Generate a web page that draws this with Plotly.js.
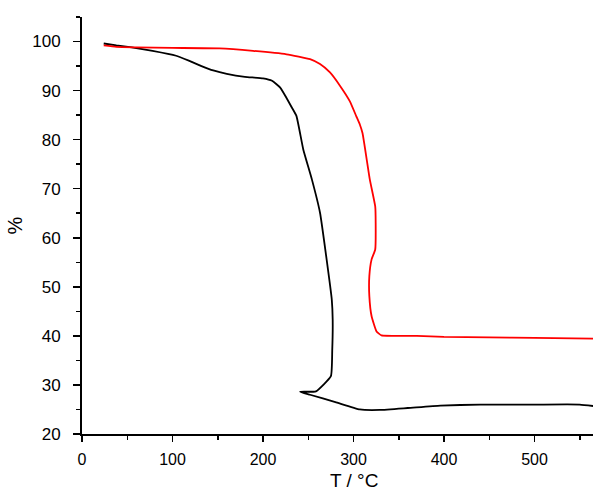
<!DOCTYPE html>
<html>
<head>
<meta charset="utf-8">
<script src="https://cdn.plot.ly/plotly-3.0.1.min.js"></script>
<style>
html,body{margin:0;padding:0;overflow:hidden;background:#fff;width:593px;height:490px;}
#chart{width:626px;height:490px;}
</style>
</head>
<body>
<div id="chart"></div>
<script>
// Black curve (sample 1)
var blackT = [24, 38, 55, 78, 104, 118, 132, 145, 160, 180, 200, 210, 219, 226, 232, 237, 244.5, 254, 263, 270, 276, 277, 276.5, 275, 258.5, 241, 252, 280, 307, 329, 360, 396, 440, 500, 550, 565];
var blackW = [99.6, 99.2, 98.8, 98.1, 97.1, 96.1, 95.0, 94.1, 93.4, 92.8, 92.5, 92.0, 90.6, 88.5, 86.5, 84.8, 78.0, 71.9, 65.1, 56.0, 47.4, 43.3, 37.0, 31.8, 28.7, 28.6, 28.0, 26.5, 25.0, 24.9, 25.3, 25.8, 26.0, 26.0, 26.0, 25.7];
// Red curve (sample 2)
var redT = [24, 38, 60, 100, 152, 189, 226, 252, 263, 274, 285, 296, 303, 307, 310, 318, 324, 324.5, 324, 320, 317.5, 317.5, 320, 325.5, 331, 370, 400, 450, 500, 565];
var redW = [99.2, 98.9, 98.8, 98.7, 98.6, 98.1, 97.4, 96.4, 95.4, 93.7, 91.0, 87.8, 84.8, 83.1, 81.3, 71.9, 66.4, 63.0, 57.6, 55.6, 52.2, 48.1, 44.0, 40.9, 40.1, 40.0, 39.8, 39.7, 39.6, 39.45];
var xTitle = 'T / °C';
var yTitle = '%';

var traces = [
  {x: blackT, y: blackW, type: 'scatter', mode: 'lines', line: {color: '#000000', width: 1.8, shape: 'spline', smoothing: 0.4}, hoverinfo: 'skip'},
  {x: redT, y: redW, type: 'scatter', mode: 'lines', line: {color: '#ff0000', width: 1.8, shape: 'spline', smoothing: 0.4}, hoverinfo: 'skip'}
];

var axisFont = {family: 'Liberation Sans, Arial, sans-serif', size: 17, color: '#000'};
var xTickFont = {family: 'Liberation Sans, Arial, sans-serif', size: 16, color: '#000'};
var titleFont = {family: 'Liberation Sans, Arial, sans-serif', size: 19, color: '#000'};

var layout = {
  width: 626, height: 490,
  margin: {l: 82, r: 1, t: 17, b: 56},
  paper_bgcolor: '#ffffff', plot_bgcolor: '#ffffff',
  showlegend: false,
  xaxis: {
    range: [0, 600], tickvals: [0, 100, 200, 300, 400, 500, 600],
    showgrid: false, zeroline: false, showline: true, linecolor: '#000', linewidth: 2,
    ticks: 'outside', ticklen: 6, tickwidth: 1.5, tickcolor: '#000',
    minor: {dtick: 50, ticks: 'outside', ticklen: 4, tickwidth: 1.5, tickcolor: '#000', showgrid: false},
    tickfont: xTickFont, ticklabelstandoff: 4
  },
  yaxis: {
    range: [20, 105], tickvals: [20, 30, 40, 50, 60, 70, 80, 90, 100],
    showgrid: false, zeroline: false, showline: true, linecolor: '#000', linewidth: 2,
    ticks: 'outside', ticklen: 7, tickwidth: 1.5, tickcolor: '#000',
    minor: {dtick: 5, ticks: 'outside', ticklen: 4, tickwidth: 1.5, tickcolor: '#000', showgrid: false},
    tickfont: axisFont, ticklabelstandoff: 9,
    title: {text: yTitle, font: {family: 'Liberation Sans, Arial, sans-serif', size: 20, color: '#000'}, standoff: 4}
  },
  annotations: [
    {text: xTitle, xref: 'paper', yref: 'paper', x: 0.5, y: 0, xanchor: 'center', yanchor: 'top',
     yshift: -34, showarrow: false, font: titleFont}
  ]
};

Plotly.newPlot('chart', traces, layout, {displayModeBar: false, staticPlot: true});
</script>
</body>
</html>
